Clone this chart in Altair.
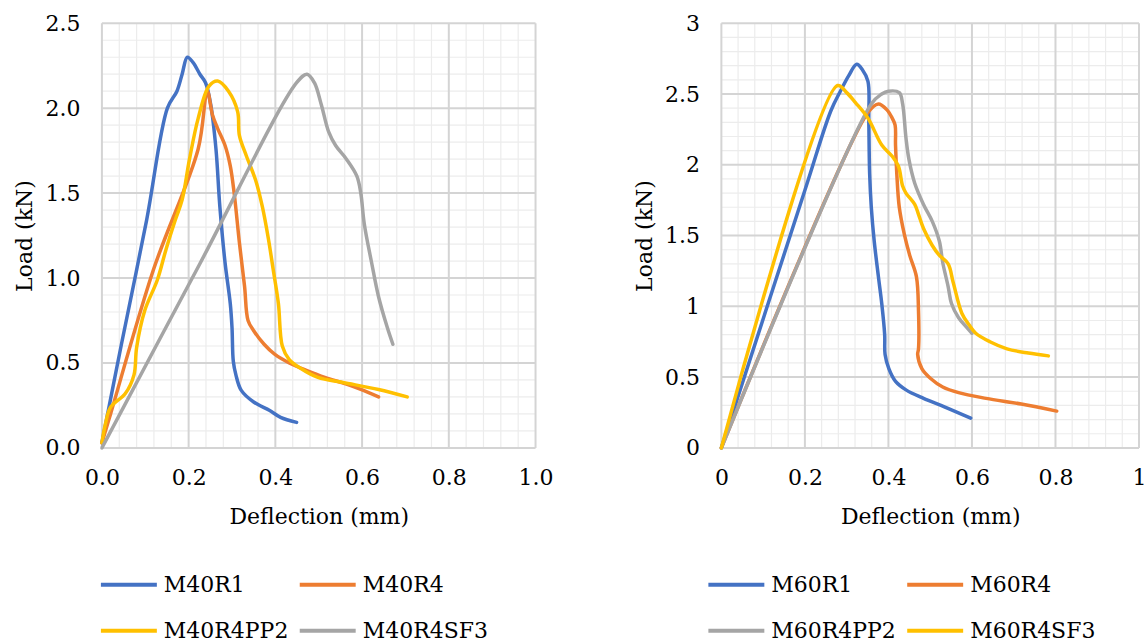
import altair as alt
import pandas as pd

FONT = "DejaVu Serif"
FONT_SIZE = 22

# ---- M40 mixes (left panel) ----
m40_names = ["M40R1", "M40R4", "M40R4PP2", "M40R4SF3"]
m40_colors = ["#4472C4", "#ED7D31", "#FFC000", "#A5A5A5"]

m40r1_x = [0, 0.045, 0.103, 0.151, 0.173, 0.185, 0.197, 0.21, 0.226, 0.239, 0.251, 0.263,
           0.272, 0.284, 0.296, 0.30, 0.303, 0.309, 0.321, 0.35, 0.387, 0.412, 0.449]
m40r1_y = [0.03, 0.61, 1.34, 2.0, 2.1, 2.2, 2.3, 2.27, 2.2, 2.15, 2.02, 1.76,
           1.42, 1.09, 0.85, 0.71, 0.51, 0.43, 0.34, 0.27, 0.22, 0.18, 0.15]

m40r4_x = [0, 0.02, 0.119, 0.222, 0.243, 0.255, 0.267, 0.284, 0.296, 0.305, 0.317, 0.329,
           0.337, 0.35, 0.374, 0.399, 0.432, 0.473, 0.514, 0.564, 0.597, 0.638]
m40r4_y = [0.03, 0.2, 1.05, 1.76, 2.1, 1.96, 1.88, 1.78, 1.66, 1.5, 1.21, 0.95,
           0.75, 0.69, 0.61, 0.55, 0.5, 0.455, 0.415, 0.375, 0.344, 0.30]

m40r4pp2_x = [0, 0.008, 0.02, 0.054, 0.074, 0.08, 0.099, 0.128, 0.148, 0.169, 0.185, 0.202,
              0.222, 0.247, 0.267, 0.292, 0.313, 0.317, 0.333, 0.354, 0.37, 0.384, 0.395,
              0.407, 0.416, 0.432, 0.457, 0.498, 0.556, 0.638, 0.704]
m40r4pp2_y = [0.03, 0.14, 0.24, 0.32, 0.43, 0.59, 0.81, 0.99, 1.17, 1.34, 1.46, 1.7,
              1.94, 2.13, 2.16, 2.1, 1.98, 1.84, 1.72, 1.58, 1.42, 1.23, 1.05,
              0.85, 0.6, 0.52, 0.47, 0.415, 0.385, 0.344, 0.30]

m40r4sf3_x = [0, 0.225, 0.449, 0.473, 0.49, 0.506, 0.523, 0.539, 0.564, 0.588, 0.597, 0.605,
              0.622, 0.638, 0.658, 0.671]
m40r4sf3_y = [0, 1.08, 2.15, 2.2, 2.15, 2.02, 1.86, 1.78, 1.7, 1.6, 1.5, 1.32,
              1.09, 0.89, 0.71, 0.61]

# ---- M60 mixes (right panel) ----
m60_names = ["M60R1", "M60R4", "M60R4PP2", "M60R4SF3"]
m60_colors = ["#4472C4", "#ED7D31", "#A5A5A5", "#FFC000"]

m60r1_x = [0, 0.2, 0.262, 0.285, 0.305, 0.324, 0.338, 0.351, 0.353, 0.355, 0.359, 0.366,
           0.376, 0.384, 0.391, 0.392, 0.401, 0.417, 0.442, 0.484, 0.534, 0.597]
m60r1_y = [0, 1.82, 2.38, 2.52, 2.63, 2.71, 2.67, 2.59, 2.31, 1.94, 1.70, 1.46,
           1.21, 1.02, 0.80, 0.66, 0.56, 0.47, 0.41, 0.35, 0.29, 0.21]

m60r4_x = [0, 0.351, 0.376, 0.396, 0.409, 0.416, 0.417, 0.42, 0.426, 0.438, 0.451, 0.467,
           0.472, 0.472, 0.47, 0.48, 0.501, 0.53, 0.568, 0.634, 0.718, 0.803]
m60r4_y = [0, 2.37, 2.43, 2.39, 2.33, 2.28, 2.14, 1.94, 1.70, 1.51, 1.36, 1.21,
           0.97, 0.70, 0.66, 0.56, 0.49, 0.43, 0.39, 0.35, 0.31, 0.26]

m60r4pp2_x = [0, 0.359, 0.384, 0.4, 0.426, 0.434, 0.442, 0.449, 0.463, 0.484, 0.505, 0.522,
              0.53, 0.543, 0.551, 0.568, 0.588, 0.6]
m60r4pp2_y = [0, 2.43, 2.5, 2.52, 2.51, 2.43, 2.19, 2.04, 1.87, 1.72, 1.60, 1.46,
              1.31, 1.14, 1.02, 0.92, 0.85, 0.81]

m60r4sf3_x = [0, 0.278, 0.3, 0.321, 0.351, 0.384, 0.409, 0.424, 0.434, 0.442, 0.463, 0.472,
              0.484, 0.505, 0.522, 0.543, 0.555, 0.576, 0.593, 0.609, 0.643, 0.684, 0.735, 0.783]
m60r4sf3_y = [0, 2.56, 2.51, 2.44, 2.33, 2.14, 2.06, 1.99, 1.85, 1.80, 1.72, 1.65,
              1.55, 1.43, 1.36, 1.30, 1.17, 0.95, 0.87, 0.81, 0.75, 0.70, 0.67, 0.65]

# ---- axis ticks / gridlines ----
x_major = [0, 0.2, 0.4, 0.6, 0.8, 1.0]
x_minor = [round(0.04 * i, 2) for i in range(1, 25) if i % 5]
m40_y_major = [0, 0.5, 1.0, 1.5, 2.0, 2.5]
m40_y_minor = [round(0.1 * i, 1) for i in range(1, 25) if i % 5]
m60_y_major = [0, 0.5, 1.0, 1.5, 2.0, 2.5, 3.0]
m60_y_minor = [round(0.1 * i, 1) for i in range(1, 30) if i % 5]


def series_frame(names, xs, ys):
    rows = []
    for name, xv, yv in zip(names, xs, ys):
        for i, (a, b) in enumerate(zip(xv, yv)):
            rows.append({"series": name, "idx": i, "x": a, "y": b})
    return pd.DataFrame(rows)


def panel(df, names, colors, w, h, ymax, y_major, y_minor, fmt, legend_x):
    xs = alt.Scale(domain=[0, 1], nice=False, zero=False)
    ys = alt.Scale(domain=[0, ymax], nice=False, zero=False)
    x_axis = alt.Axis(values=x_major, format=fmt, title="Deflection (mm)")
    y_axis = alt.Axis(values=y_major, format=fmt, title="Load (kN)")

    def vrules(vals, color, width):
        return alt.Chart(pd.DataFrame({"x": vals})).mark_rule(
            color=color, strokeWidth=width
        ).encode(x=alt.X("x:Q", scale=xs, axis=x_axis))

    def hrules(vals, color, width):
        return alt.Chart(pd.DataFrame({"y": vals})).mark_rule(
            color=color, strokeWidth=width
        ).encode(y=alt.Y("y:Q", scale=ys, axis=y_axis))

    minor_c, major_c = "#ececec", "#d4d4d4"
    lines = alt.Chart(df).mark_line(
        strokeWidth=3.5, interpolate="catmull-rom", strokeCap="round", strokeJoin="round"
    ).encode(
        x=alt.X("x:Q", scale=xs, axis=x_axis),
        y=alt.Y("y:Q", scale=ys, axis=y_axis),
        color=alt.Color(
            "series:N",
            scale=alt.Scale(domain=names, range=colors),
            legend=alt.Legend(
                title=None, orient="none", direction="horizontal",
                legendX=legend_x, legendY=552,
                columns=2, symbolType="stroke", symbolSize=3136,
                symbolStrokeWidth=4, clipHeight=20, rowPadding=24,
                columnPadding=9, labelOffset=5, labelFont=FONT,
                labelFontSize=FONT_SIZE, labelColor="black",
            ),
        ),
        order="idx:Q",
    )
    return alt.layer(
        vrules(x_minor, minor_c, 1.2),
        hrules(y_minor, minor_c, 1.2),
        vrules(x_major, major_c, 2),
        hrules(y_major, major_c, 2),
        lines,
    ).properties(width=w, height=h)


left = panel(
    series_frame(m40_names, [m40r1_x, m40r4_x, m40r4pp2_x, m40r4sf3_x],
                 [m40r1_y, m40r4_y, m40r4pp2_y, m40r4sf3_y]),
    m40_names, m40_colors, 434, 425, 2.5, m40_y_major, m40_y_minor, ".1f", -3,
)
right = panel(
    series_frame(m60_names, [m60r1_x, m60r4_x, m60r4pp2_x, m60r4sf3_x],
                 [m60r1_y, m60r4_y, m60r4pp2_y, m60r4sf3_y]),
    m60_names, m60_colors, 418, 425, 3, m60_y_major, m60_y_minor, "~g", -15,
)

# flush bounds: spacing is measured between the two plot areas
chart = alt.hconcat(left, right, spacing=186, bounds="flush").resolve_scale(
    color="independent"
).configure_view(stroke=None).configure_axis(
    domain=False, ticks=False, tickSize=0, grid=False, labelFlush=False,
    labelFont=FONT, labelFontSize=FONT_SIZE, labelColor="black", labelPadding=20,
    titleFont=FONT, titleFontSize=FONT_SIZE, titleFontWeight="normal", titleColor="black",
).configure_axisX(titlePadding=18).configure_axisY(titlePadding=8, labelPadding=22).properties(
    padding={"left": 14, "top": 12, "right": 0, "bottom": 0}
)

chart.save("out.html", embed_options={"renderer": "svg", "actions": False})
